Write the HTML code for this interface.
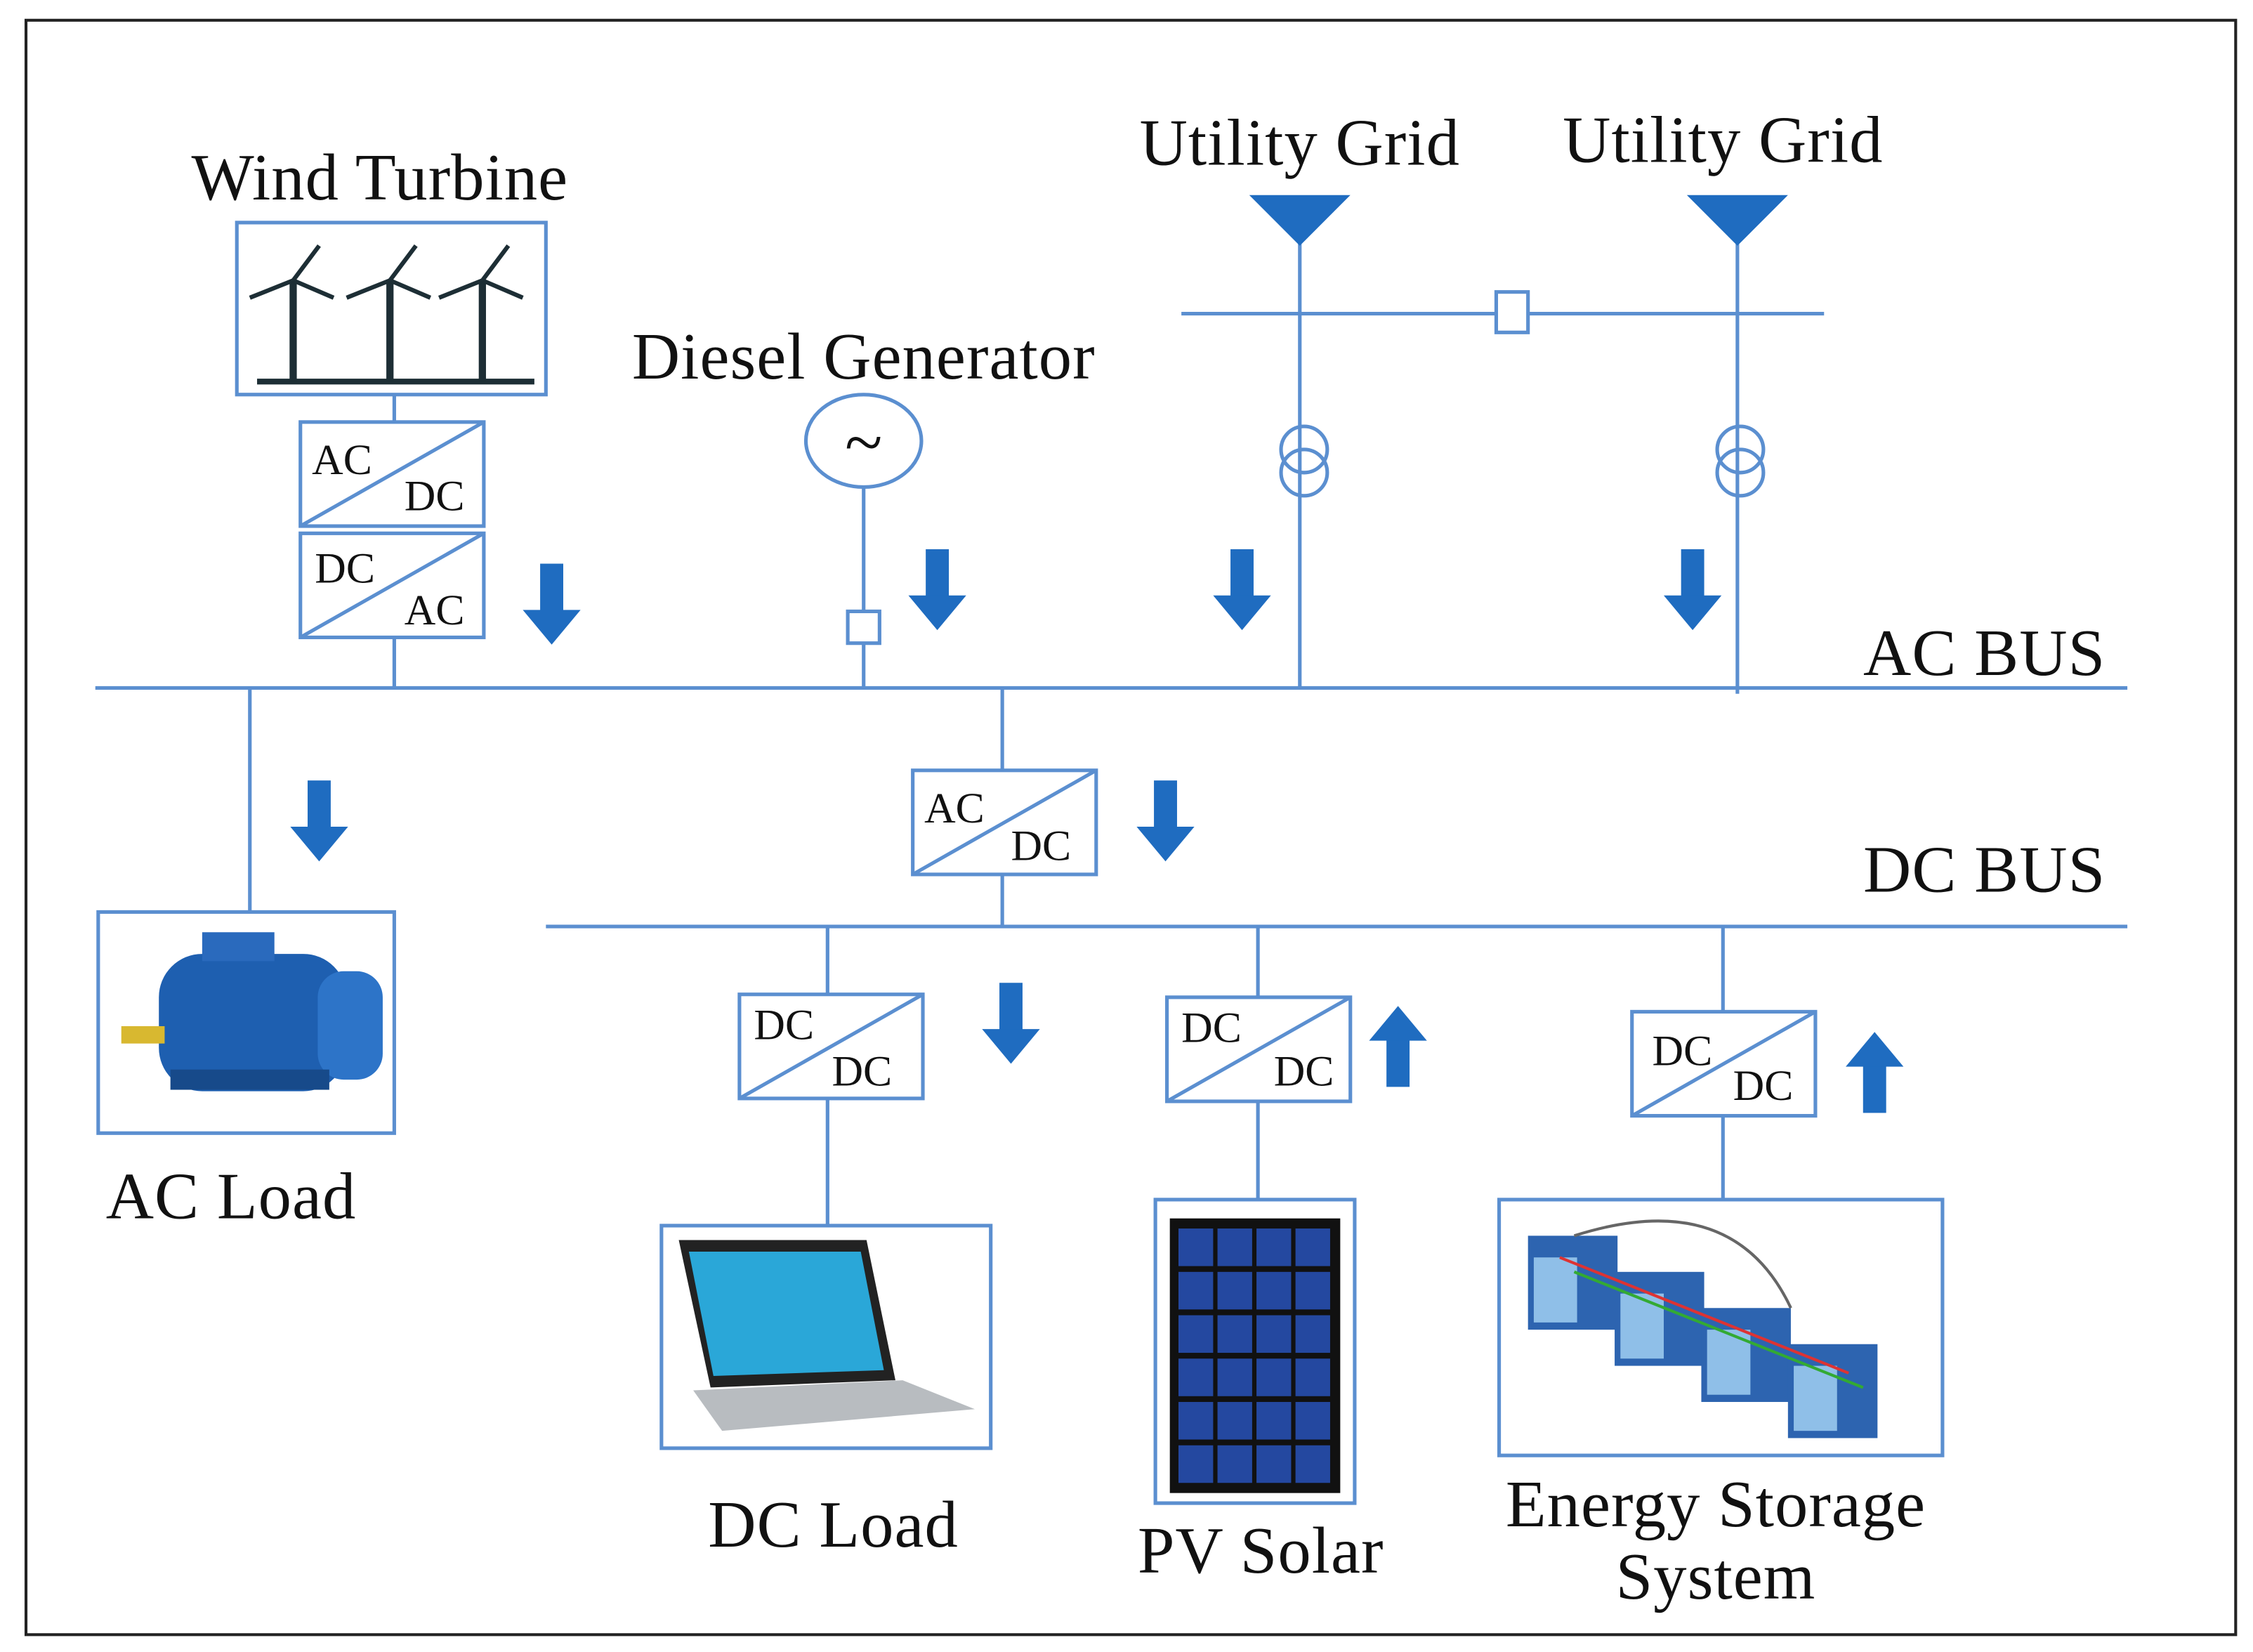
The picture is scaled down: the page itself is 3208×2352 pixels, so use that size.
<!DOCTYPE html>
<html><head><meta charset="utf-8"><style>
html,body{margin:0;padding:0;background:#fff;}
svg{display:block;}
text{font-family:"Liberation Serif",serif;fill:#111;}
.L{font-size:46px;letter-spacing:0.5px;}
</style></head><body>
<svg width="3208" height="2352" viewBox="0 0 1560 1143" preserveAspectRatio="none" xmlns="http://www.w3.org/2000/svg">
<defs>
<g id="down"><rect x="-8" y="0" width="16" height="36" fill="#1f6cc0"/><polygon points="-20,32 20,32 0,56" fill="#1f6cc0"/></g>
<g id="conv"><rect x="0" y="0" width="127" height="72" fill="#fff" stroke="#5b8fd0" stroke-width="2.5"/><line x1="0" y1="72" x2="127" y2="0" stroke="#5b8fd0" stroke-width="2.5"/></g>
<g id="tur"><line x1="0" y1="0" x2="0" y2="70" stroke="#1d2e35" stroke-width="5"/><line x1="0" y1="0" x2="-30" y2="12" stroke="#1d2e35" stroke-width="3"/><line x1="0" y1="0" x2="18" y2="-24" stroke="#1d2e35" stroke-width="3"/><line x1="0" y1="0" x2="28" y2="12" stroke="#1d2e35" stroke-width="3"/></g>
</defs>
<rect x="0" y="0" width="1560" height="1143" fill="#fff"/>
<rect x="18" y="14" width="1530" height="1117" fill="none" stroke="#222" stroke-width="2"/>
<g stroke="#5b8fd0" stroke-width="2.5" fill="none">
<line x1="66" y1="476" x2="1473" y2="476"/>
<line x1="378" y1="641" x2="1473" y2="641"/>
<line x1="273" y1="273" x2="273" y2="292"/><line x1="273" y1="441" x2="273" y2="476"/>
<line x1="598" y1="337" x2="598" y2="476"/>
<line x1="818" y1="217" x2="1263" y2="217"/>
<line x1="900" y1="160" x2="900" y2="476"/><line x1="1203" y1="160" x2="1203" y2="480"/>
<line x1="173" y1="476" x2="173" y2="631"/>
<line x1="694" y1="476" x2="694" y2="641"/>
<line x1="573" y1="641" x2="573" y2="848"/>
<line x1="871" y1="641" x2="871" y2="830"/>
<line x1="1193" y1="641" x2="1193" y2="830"/>
</g>
<rect x="164" y="154" width="214" height="119" fill="#fff" stroke="#5b8fd0" stroke-width="2.5"/>
<line x1="178" y1="264" x2="370" y2="264" stroke="#1d2e35" stroke-width="4"/>
<use href="#tur" x="203" y="194"/><use href="#tur" x="270" y="194"/><use href="#tur" x="334" y="194"/>
<use href="#conv" x="208" y="292"/><use href="#conv" x="208" y="369"/>
<text x="216" y="328" font-size="30">AC</text><text x="280" y="353" font-size="30">DC</text>
<text x="218" y="403" font-size="30">DC</text><text x="280" y="432" font-size="30">AC</text>
<ellipse cx="598" cy="305" rx="40" ry="32" fill="#fff" stroke="#5b8fd0" stroke-width="2.5"/>
<text x="598" y="322" font-size="48" text-anchor="middle">~</text>
<rect x="587" y="423" width="22" height="22" fill="#fff" stroke="#5b8fd0" stroke-width="2.5"/>
<polygon points="865,135 935,135 900,170" fill="#1f6cc0"/>
<polygon points="1168,135 1238,135 1203,170" fill="#1f6cc0"/>
<rect x="1036" y="202" width="22" height="28" fill="#fff" stroke="#5b8fd0" stroke-width="2.5"/>
<g fill="none" stroke="#5b8fd0" stroke-width="2.5"><circle cx="903" cy="311" r="16"/><circle cx="903" cy="327" r="16"/><circle cx="1205" cy="311" r="16"/><circle cx="1205" cy="327" r="16"/></g>
<use href="#down" x="382" y="390"/><use href="#down" x="649" y="380"/><use href="#down" x="860" y="380"/><use href="#down" x="1172" y="380"/>
<use href="#down" x="221" y="540"/><use href="#down" x="807" y="540"/><use href="#down" x="700" y="680"/>
<use href="#down" transform="translate(968,752) scale(1,-1)"/><use href="#down" transform="translate(1298,770) scale(1,-1)"/>
<use href="#conv" x="632" y="533"/><text x="640" y="569" font-size="30">AC</text><text x="700" y="595" font-size="30">DC</text>
<use href="#conv" x="512" y="688"/><text x="522" y="719" font-size="30">DC</text><text x="576" y="751" font-size="30">DC</text>
<use href="#conv" x="808" y="690"/><text x="818" y="721" font-size="30">DC</text><text x="882" y="751" font-size="30">DC</text>
<use href="#conv" x="1130" y="700"/><text x="1144" y="737" font-size="30">DC</text><text x="1200" y="761" font-size="30">DC</text>
<rect x="68" y="631" width="205" height="153" fill="#fff" stroke="#5b8fd0" stroke-width="2.5"/>
<rect x="110" y="660" width="130" height="95" rx="30" fill="#1e5fb0"/>
<rect x="220" y="672" width="45" height="75" rx="18" fill="#2d74c8"/>
<rect x="84" y="710" width="30" height="12" fill="#d8b830"/>
<rect x="118" y="740" width="110" height="14" fill="#174a8a"/>
<rect x="140" y="645" width="50" height="20" fill="#2a6abd"/>
<rect x="458" y="848" width="228" height="154" fill="#fff" stroke="#5b8fd0" stroke-width="2.5"/>
<polygon points="470,858 600,858 620,955 492,960" fill="#222"/>
<polygon points="477,866 596,866 612,948 494,952" fill="#2aa7d8"/>
<polygon points="480,962 625,955 675,975 500,990" fill="#b8bcc0"/>
<rect x="800" y="830" width="138" height="210" fill="#fff" stroke="#5b8fd0" stroke-width="2.5"/>
<rect x="810" y="843" width="118" height="190" fill="#111"/>
<g fill="#2448a0">
<rect x="816" y="850" width="24" height="26"/><rect x="843" y="850" width="24" height="26"/><rect x="870" y="850" width="24" height="26"/><rect x="897" y="850" width="24" height="26"/>
<rect x="816" y="880" width="24" height="26"/><rect x="843" y="880" width="24" height="26"/><rect x="870" y="880" width="24" height="26"/><rect x="897" y="880" width="24" height="26"/>
<rect x="816" y="910" width="24" height="26"/><rect x="843" y="910" width="24" height="26"/><rect x="870" y="910" width="24" height="26"/><rect x="897" y="910" width="24" height="26"/>
<rect x="816" y="940" width="24" height="26"/><rect x="843" y="940" width="24" height="26"/><rect x="870" y="940" width="24" height="26"/><rect x="897" y="940" width="24" height="26"/>
<rect x="816" y="970" width="24" height="26"/><rect x="843" y="970" width="24" height="26"/><rect x="870" y="970" width="24" height="26"/><rect x="897" y="970" width="24" height="26"/>
<rect x="816" y="1000" width="24" height="26"/><rect x="843" y="1000" width="24" height="26"/><rect x="870" y="1000" width="24" height="26"/><rect x="897" y="1000" width="24" height="26"/>
</g>
<rect x="1038" y="830" width="307" height="177" fill="#fff" stroke="#5b8fd0" stroke-width="2.5"/>
<g fill="#2d64b0">
<rect x="1058" y="855" width="62" height="65"/><rect x="1118" y="880" width="62" height="65"/><rect x="1178" y="905" width="62" height="65"/><rect x="1238" y="930" width="62" height="65"/>
</g>
<g fill="#8fbfe8">
<rect x="1062" y="870" width="30" height="45"/><rect x="1122" y="895" width="30" height="45"/><rect x="1182" y="920" width="30" height="45"/><rect x="1242" y="945" width="30" height="45"/>
</g>
<path d="M1090,855 Q1200,820 1240,905" fill="none" stroke="#666" stroke-width="2"/>
<path d="M1080,870 L1280,950" fill="none" stroke="#d33" stroke-width="2"/>
<path d="M1090,880 L1290,960" fill="none" stroke="#3a3" stroke-width="2"/>
<text class="L" x="263" y="138" text-anchor="middle">Wind Turbine</text>
<text class="L" x="598" y="262" text-anchor="middle">Diesel Generator</text>
<text class="L" x="900" y="114" text-anchor="middle">Utility Grid</text>
<text class="L" x="1193" y="112" text-anchor="middle">Utility Grid</text>
<text class="L" x="1458" y="467" text-anchor="end">AC BUS</text>
<text class="L" x="1458" y="617" text-anchor="end">DC BUS</text>
<text class="L" x="160" y="843" text-anchor="middle">AC Load</text>
<text class="L" x="577" y="1070" text-anchor="middle">DC Load</text>
<text class="L" x="873" y="1088" text-anchor="middle">PV Solar</text>
<text class="L" x="1188" y="1056" text-anchor="middle">Energy Storage</text>
<text class="L" x="1188" y="1106" text-anchor="middle">System</text>
</svg>
</body></html>
